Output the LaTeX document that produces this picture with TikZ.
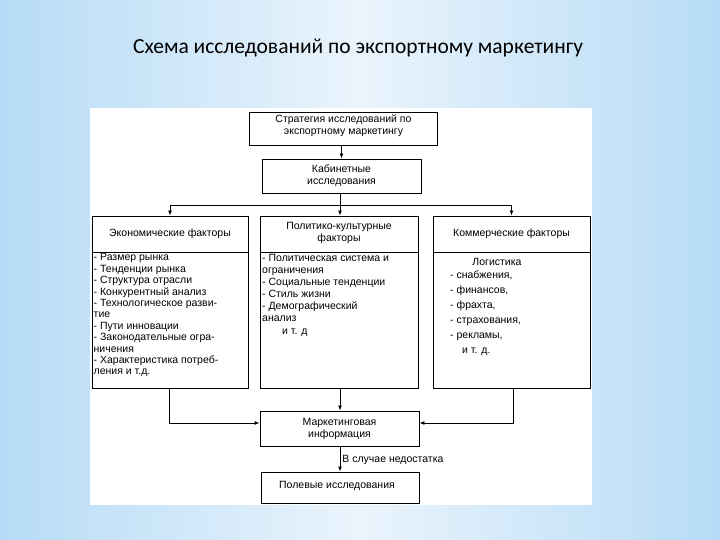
\documentclass[tikz,border=0pt]{standalone}
\usepackage{fontspec}
\setmainfont{Liberation Sans}
\newfontfamily\titlefont{Carlito}
\usetikzlibrary{arrows.meta}
\definecolor{edgeblue}{HTML}{B6DBF6}
\definecolor{midblue}{HTML}{EAF4FC}
\begin{document}
\begin{tikzpicture}[x=1pt,y=-1pt,
  box/.style={draw=black, line width=0.9pt, fill=white, inner sep=0pt},
  txt/.style={inner sep=0pt, font=\fontsize{10.5}{12}\selectfont, align=center},
  lst/.style={inner sep=0pt, font=\fontsize{10.5}{11.4}\selectfont, align=left, anchor=north west},
  conn/.style={line width=0.9pt},
  arr/.style={line width=0.9pt, -{Latex[length=5pt,width=4pt]}}]
\useasboundingbox (0,0) rectangle (720,540);
\shade[left color=edgeblue, right color=edgeblue, middle color=midblue] (0,0) rectangle (720,540);
\fill[white] (90,108) rectangle (592,505);
\node[font=\titlefont\fontsize{21.5}{24}\selectfont] (title) at (358,48) {Схема исследований по экспортному маркетингу};

% top boxes
\node[box, minimum width=188, minimum height=33] (strat) at (343.5,128.5) {};
\node[txt] at (343.5,126) {Стратегия исследований по\\экспортному маркетингу};
\node[box, minimum width=159, minimum height=34] (kab) at (341.5,176) {};
\node[txt] at (341.5,176) {Кабинетные\\исследования};

% factor boxes
\node[box, minimum width=156, minimum height=172] (econ) at (170,302) {};
\node[box, minimum width=158, minimum height=172] (pol) at (339,302) {};
\node[box, minimum width=157, minimum height=172] (comm) at (511.5,302) {};
\draw[conn] (econ.west |- 0,252) -- (econ.east |- 0,252);
\draw[conn] (pol.west |- 0,252) -- (pol.east |- 0,252);
\draw[conn] (comm.west |- 0,252) -- (comm.east |- 0,252);
\node[txt] at (170,234) {Экономические факторы};
\node[txt] at (339,233) {Политико-культурные\\факторы};
\node[txt] at (511.5,234) {Коммерческие факторы};

\node[lst] at (93.5,253.5) {- Размер рынка\\- Тенденции рынка\\- Структура отрасли\\- Конкурентный анализ\\- Технологическое разви-\\тие\\- Пути инновации\\- Законодательные огра-\\ничения\\- Характеристика потреб-\\ления и т.д.};
\node[lst, font=\fontsize{10.5}{12.1}\selectfont] at (262,254) {- Политическая система и\\ограничения\\- Социальные тенденции\\- Стиль жизни\\- Демографический\\анализ\\\hspace*{20pt}и т. д};
\node[txt] at (497,262) {Логистика};
\node[lst, font=\fontsize{10.5}{15}\selectfont] at (450,271) {- снабжения,\\- финансов,\\- фрахта,\\- страхования,\\- рекламы,\\\hspace*{12pt}и т. д.};

% bottom boxes
\node[box, minimum width=159, minimum height=35] (info) at (339.5,428.5) {};
\node[txt] at (339.5,428.5) {Маркетинговая\\информация};
\node[box, minimum width=158, minimum height=31] (field) at (340,487.5) {};
\node[txt] at (337,486) {Полевые исследования};

% connectors
\draw[arr] (strat.south -| kab.north) -- (kab.north);
\coordinate (split) at (340,205);
\draw[conn] (kab.south -| split) -- (split);
\draw[conn] (econ.north |- split) -- (comm.north |- split);
\draw[arr] (econ.north |- split) -- (econ.north);
\draw[arr] (split) -- (pol.north -| split);
\draw[arr] (comm.north |- split) -- (comm.north);
\coordinate (lc) at (169,423);
\coordinate (rc) at (513,423);
\draw[arr] (econ.south -| lc) -- (lc) -- (info.west |- lc);
\draw[arr] (comm.south -| rc) -- (rc) -- (info.east |- rc);
\draw[arr] (pol.south -| split) -- (info.north -| split);
\draw[arr] (info.south -| split) -- node[right=2pt, inner sep=0pt, font=\fontsize{10.5}{12}\selectfont, yshift=-0.5pt] {В случае недостатка} (field.north -| split);
\end{tikzpicture}
\end{document}
